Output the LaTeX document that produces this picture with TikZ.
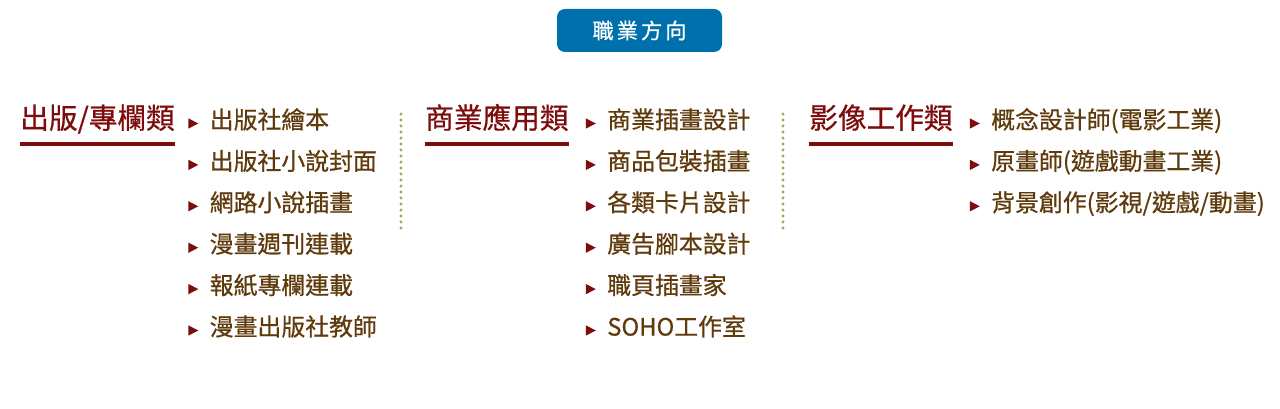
\documentclass[tikz,border=0pt]{standalone}
\usepackage{fontspec}
\setmainfont{Noto Sans CJK TC}[FakeBold=0.7]
\usetikzlibrary{positioning,shapes.geometric}
\definecolor{headred}{HTML}{7D0C0C}
\definecolor{itembrown}{HTML}{5E3A0C}
\definecolor{btnblue}{HTML}{0070AC}
\definecolor{dotolive}{HTML}{A8A65A}

\begin{document}
\begin{tikzpicture}[x=0.75pt, y=-0.75pt,
  btn/.style={fill=btnblue, rounded corners=6pt, text=white, minimum width=123.75pt, minimum height=32.25pt, font=\fontsize{16pt}{18pt}\selectfont},
  head/.style={anchor=west, inner sep=0pt, text=headred, text height=.88em, text depth=.12em, font=\fontsize{21.5pt}{24pt}\selectfont},
  rule/.style={headred, line width=2.4pt},
  bul/.style={isosceles triangle, isosceles triangle apex angle=55, fill=headred, inner sep=0pt, minimum size=7.5pt, label distance=8pt},
  item/.style={anchor=west, inner sep=0pt, text=itembrown, text height=.88em, text depth=.12em, font=\fontsize{17.9pt}{20pt}\selectfont, label={[bul]left:{}}},
  sep/.style={dotolive, line width=2.5pt, line cap=round, dash pattern=on 0pt off 4.5pt}
]
\useasboundingbox (0,0) rectangle (1280,409);

\node[btn] (title) at (639.5,30.5) {職\kern2.2pt 業\kern2.2pt 方\kern2.2pt 向};

% column 1
\node[head] (h1) at (20,123.5) {出版/專欄類};
\draw[rule] (h1.west |- 0,144) -- (h1.east |- 0,144);
\node[item] (a1) at (209.5,123.5) {出版社繪本};
\node[item, below=31.05pt of a1.west, anchor=west] (a2) {出版社小說封面};
\node[item, below=31.05pt of a2.west, anchor=west] (a3) {網路小說插畫};
\node[item, below=31.05pt of a3.west, anchor=west] (a4) {漫畫週刊連載};
\node[item, below=31.05pt of a4.west, anchor=west] (a5) {報紙專欄連載};
\node[item, below=31.05pt of a5.west, anchor=west] (a6) {漫畫出版社教師};

\draw[sep] (401,114) -- (401,230);

% column 2
\node[head] (h2) at (425,123.5) {商業應用類};
\draw[rule] (h2.west |- 0,144) -- (h2.east |- 0,144);
\node[item] (b1) at (607,123.5) {商業插畫設計};
\node[item, below=31.05pt of b1.west, anchor=west] (b2) {商品包裝插畫};
\node[item, below=31.05pt of b2.west, anchor=west] (b3) {各類卡片設計};
\node[item, below=31.05pt of b3.west, anchor=west] (b4) {廣告腳本設計};
\node[item, below=31.05pt of b4.west, anchor=west] (b5) {職頁插畫家};
\node[item, below=31.05pt of b5.west, anchor=west] (b6) {SOHO工作室};

\draw[sep] (783,114) -- (783,230);

% column 3
\node[head] (h3) at (809,123.5) {影像工作類};
\draw[rule] (h3.west |- 0,144) -- (h3.east |- 0,144);
\node[item] (c1) at (991,123.5) {概念設計師(電影工業)};
\node[item, below=31.05pt of c1.west, anchor=west] (c2) {原畫師(遊戲動畫工業)};
\node[item, below=31.05pt of c2.west, anchor=west] (c3) {背景創作(影視/遊戲/動畫)};
\end{tikzpicture}
\end{document}
